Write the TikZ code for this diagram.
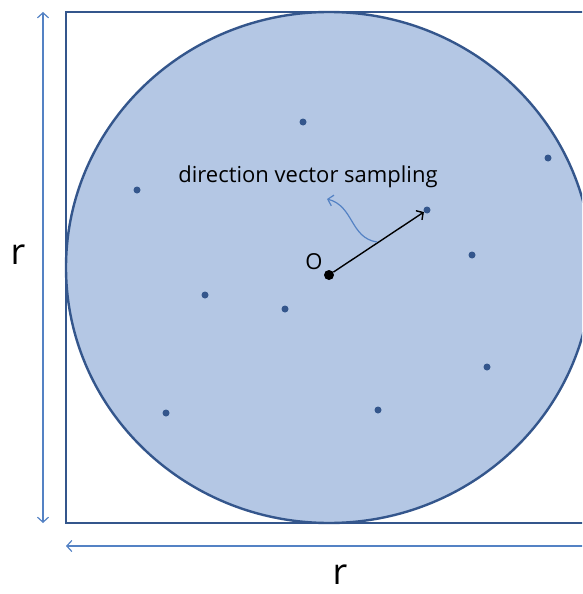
\documentclass[tikz,border=0pt]{standalone}
\usepackage{fontspec}
\setmainfont{Open Sans}
\usetikzlibrary{arrows.meta}
\definecolor{diskfill}{RGB}{180,199,228}
\definecolor{diskline}{RGB}{52,86,140}
\definecolor{dimline}{RGB}{84,130,196}
\tikzset{
  sample/.style={circle, fill=diskline, inner sep=0pt, minimum size=7pt},
  origin/.style={circle, fill=black, inner sep=0pt, minimum size=10pt},
  dimarrow/.style={{Straight Barb[length=5pt,width=11pt]}-{Straight Barb[length=5pt,width=11pt]}, dimline, line width=1.2pt},
  vecarrow/.style={-{Straight Barb[length=5pt,width=11pt]}, black, line width=1.4pt},
  bendarrow/.style={-{Straight Barb[length=5pt,width=11pt]}, dimline, line width=1.2pt},
  biglabel/.style={font=\fontsize{36}{40}\selectfont, inner sep=0pt},
  textlabel/.style={font=\fontsize{22}{26}\selectfont, inner sep=0pt}
}
\begin{document}
\begin{tikzpicture}[x=1pt,y=-1pt]
\clip (0,0) rectangle (582,594);
% square and disk
\draw[diskline, line width=2.4pt] (66,12) rectangle (592,523);
\fill[diskfill] (329,267.5) ellipse [x radius=263, y radius=255.5];
\draw[diskline, line width=2.4pt] (329,267.5) ellipse [x radius=263, y radius=255.5];
% samples
\node[sample] (s1) at (303,122) {};
\node[sample] (s2) at (137,190) {};
\node[sample] (s3) at (548,158) {};
\node[sample] (s4) at (427,210) {};
\node[sample] (s5) at (472,255) {};
\node[sample] (s6) at (205,295) {};
\node[sample] (s7) at (285,309) {};
\node[sample] (s8) at (487,367) {};
\node[sample] (s9) at (166,413) {};
\node[sample] (s10) at (378,410) {};
% origin and direction
\node[origin] (o) at (329,275) {};
\node[textlabel] (olabel) at (314,262) {O};
\draw[vecarrow] (o) -- (s4);
\node[textlabel] (dirlabel) at (308,177) {direction vector sampling};
\coordinate (bendfrom) at (377,242);
\coordinate (bendto) at (327,199);
\draw[bendarrow] (bendfrom) .. controls (350,238) and (354,206) .. (bendto);
% dimensions
\coordinate (vtop) at (43,12);
\coordinate (vbot) at (43,523);
\draw[dimarrow] (vtop) -- (vbot);
\coordinate (hleft) at (66,546);
\coordinate (hright) at (592,546);
\draw[dimarrow] (hleft) -- (hright);
\node[biglabel] (rleft) at (18,255) {r};
\node[biglabel] (rbottom) at (340,575) {r};
\end{tikzpicture}
\end{document}
